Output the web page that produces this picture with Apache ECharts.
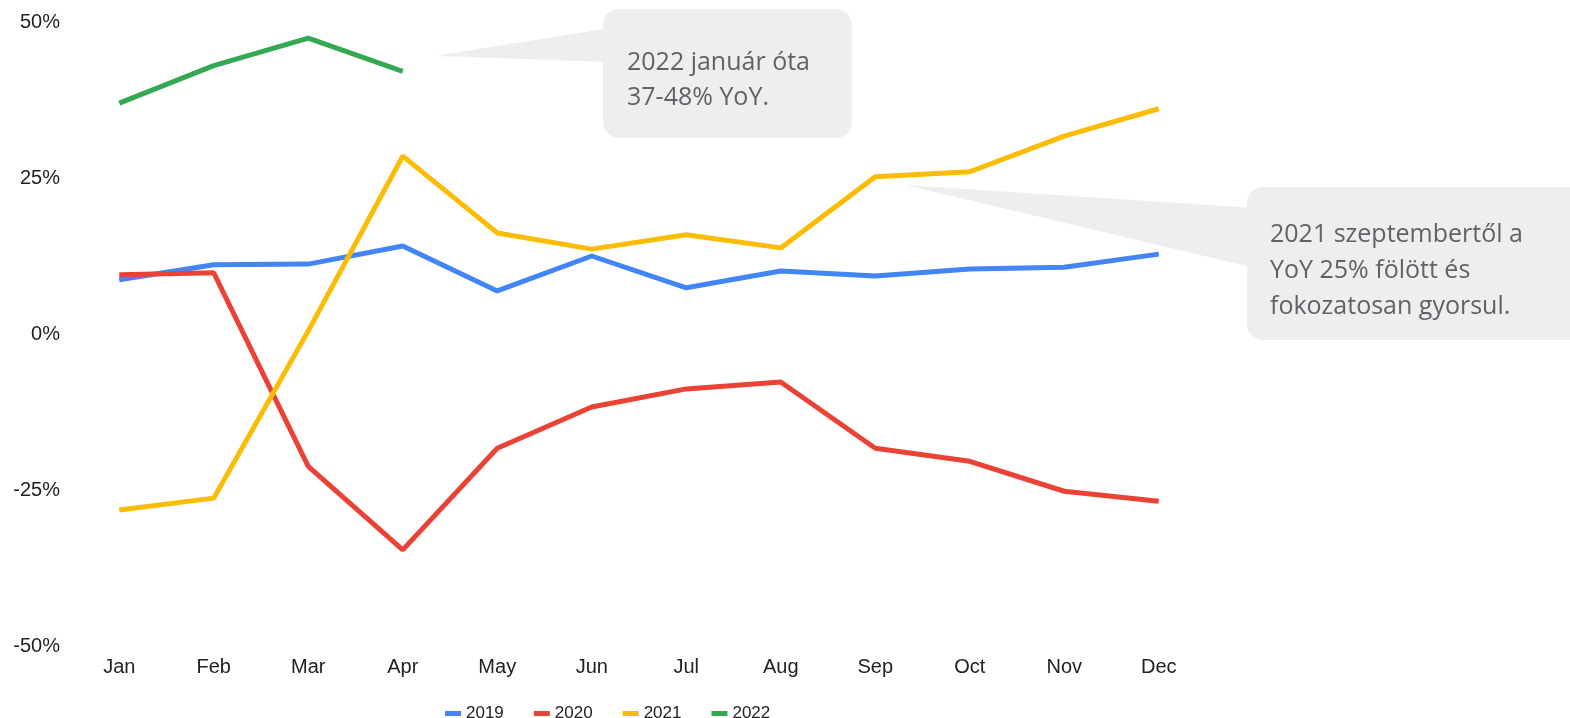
<!DOCTYPE html>
<html>
<head>
<meta charset="utf-8">
<script src="https://cdn.jsdelivr.net/npm/echarts@6/dist/echarts.min.js"></script>
<style>
  html, body { margin: 0; padding: 0; background: #fff; }
  #main { width: 1570px; height: 718px; }
</style>
</head>
<body>
<div id="main"></div>
<script>
  // adatok
  const months = ['Jan', 'Feb', 'Mar', 'Apr', 'May', 'Jun', 'Jul', 'Aug', 'Sep', 'Oct', 'Nov', 'Dec'];
  const y2019 = [8.7, 11.1, 11.2, 14.1, 6.9, 12.5, 7.4, 10.1, 9.3, 10.4, 10.7, 12.8];
  const y2020 = [9.5, 9.8, -21.2, -34.6, -18.3, -11.7, -8.8, -7.7, -18.3, -20.4, -25.2, -26.8];
  const y2021 = [-28.2, -26.3, 0.5, 28.5, 16.2, 13.6, 15.9, 13.8, 25.2, 26.0, 31.7, 36.1];
  const y2022 = [37.0, 43.0, 47.4, 42.1];
  const yTicks = [-50, -25, 0, 25, 50];

  const colors = ['#4285F4', '#EA4335', '#FBBC04', '#34A853'];
  const calloutFill = '#eeeeee';
  const calloutText = '#5f6368';

  const myChart = echarts.init(document.getElementById('main'));

  function line(name, data, color) {
    return {
      name: name,
      type: 'line',
      data: data,
      symbol: 'none',
      lineStyle: { width: 5, color: color },
      itemStyle: { color: color },
      z: 3
    };
  }

  const option = {
    animation: false,
    color: colors,
    grid: { left: 72, right: 364, top: 22, bottom: 72 },
    legend: {
      left: 440,
      top: 700,
      icon: 'rect',
      itemWidth: 16,
      itemHeight: 5,
      itemGap: 30,
      textStyle: { fontFamily: 'Liberation Sans', fontSize: 17, color: '#222' },
      data: ['2019', '2020', '2021', '2022']
    },
    xAxis: {
      type: 'category',
      data: months,
      axisLine: { show: false },
      axisTick: { show: false },
      axisLabel: { margin: 11, fontFamily: 'Liberation Sans', fontSize: 20, color: '#222' }
    },
    yAxis: {
      type: 'value',
      min: yTicks[0],
      max: yTicks[yTicks.length - 1],
      interval: 25,
      splitLine: { show: false },
      axisLine: { show: false },
      axisTick: { show: false },
      axisLabel: {
        margin: 12,
        fontFamily: 'Liberation Sans',
        fontSize: 20,
        color: '#222',
        formatter: v => v + '%'
      }
    },
    graphic: [
      // 1. szövegbuborék
      {
        type: 'polygon',
        shape: { points: [[435, 56], [610, 28], [610, 62]] },
        style: { fill: calloutFill },
        z: 1
      },
      {
        type: 'rect',
        shape: { x: 603, y: 9, width: 249, height: 129, r: 16 },
        style: { fill: calloutFill },
        z: 1
      },
      {
        type: 'text',
        x: 627, y: 45,
        style: {
          text: '2022 január óta\n37-48% YoY.',
          fontFamily: 'Open Sans',
          fontSize: 25,
          lineHeight: 35,
          fill: calloutText
        },
        z: 2
      },
      // 2. szövegbuborék
      {
        type: 'polygon',
        shape: { points: [[905, 185], [1255, 208], [1255, 268]] },
        style: { fill: calloutFill },
        z: 1
      },
      {
        type: 'rect',
        shape: { x: 1247, y: 187, width: 340, height: 153, r: 16 },
        style: { fill: calloutFill },
        z: 1
      },
      {
        type: 'text',
        x: 1270, y: 217,
        style: {
          text: '2021 szeptembertől a\nYoY 25% fölött és\nfokozatosan gyorsul.',
          fontFamily: 'Open Sans',
          fontSize: 25,
          lineHeight: 36,
          fill: calloutText
        },
        z: 2
      }
    ],
    series: [
      line('2019', y2019, colors[0]),
      line('2020', y2020, colors[1]),
      line('2021', y2021, colors[2]),
      line('2022', y2022, colors[3])
    ]
  };

  myChart.setOption(option);
  window.onresize = function () {
    myChart.resize();
  };
</script>
</body>
</html>
